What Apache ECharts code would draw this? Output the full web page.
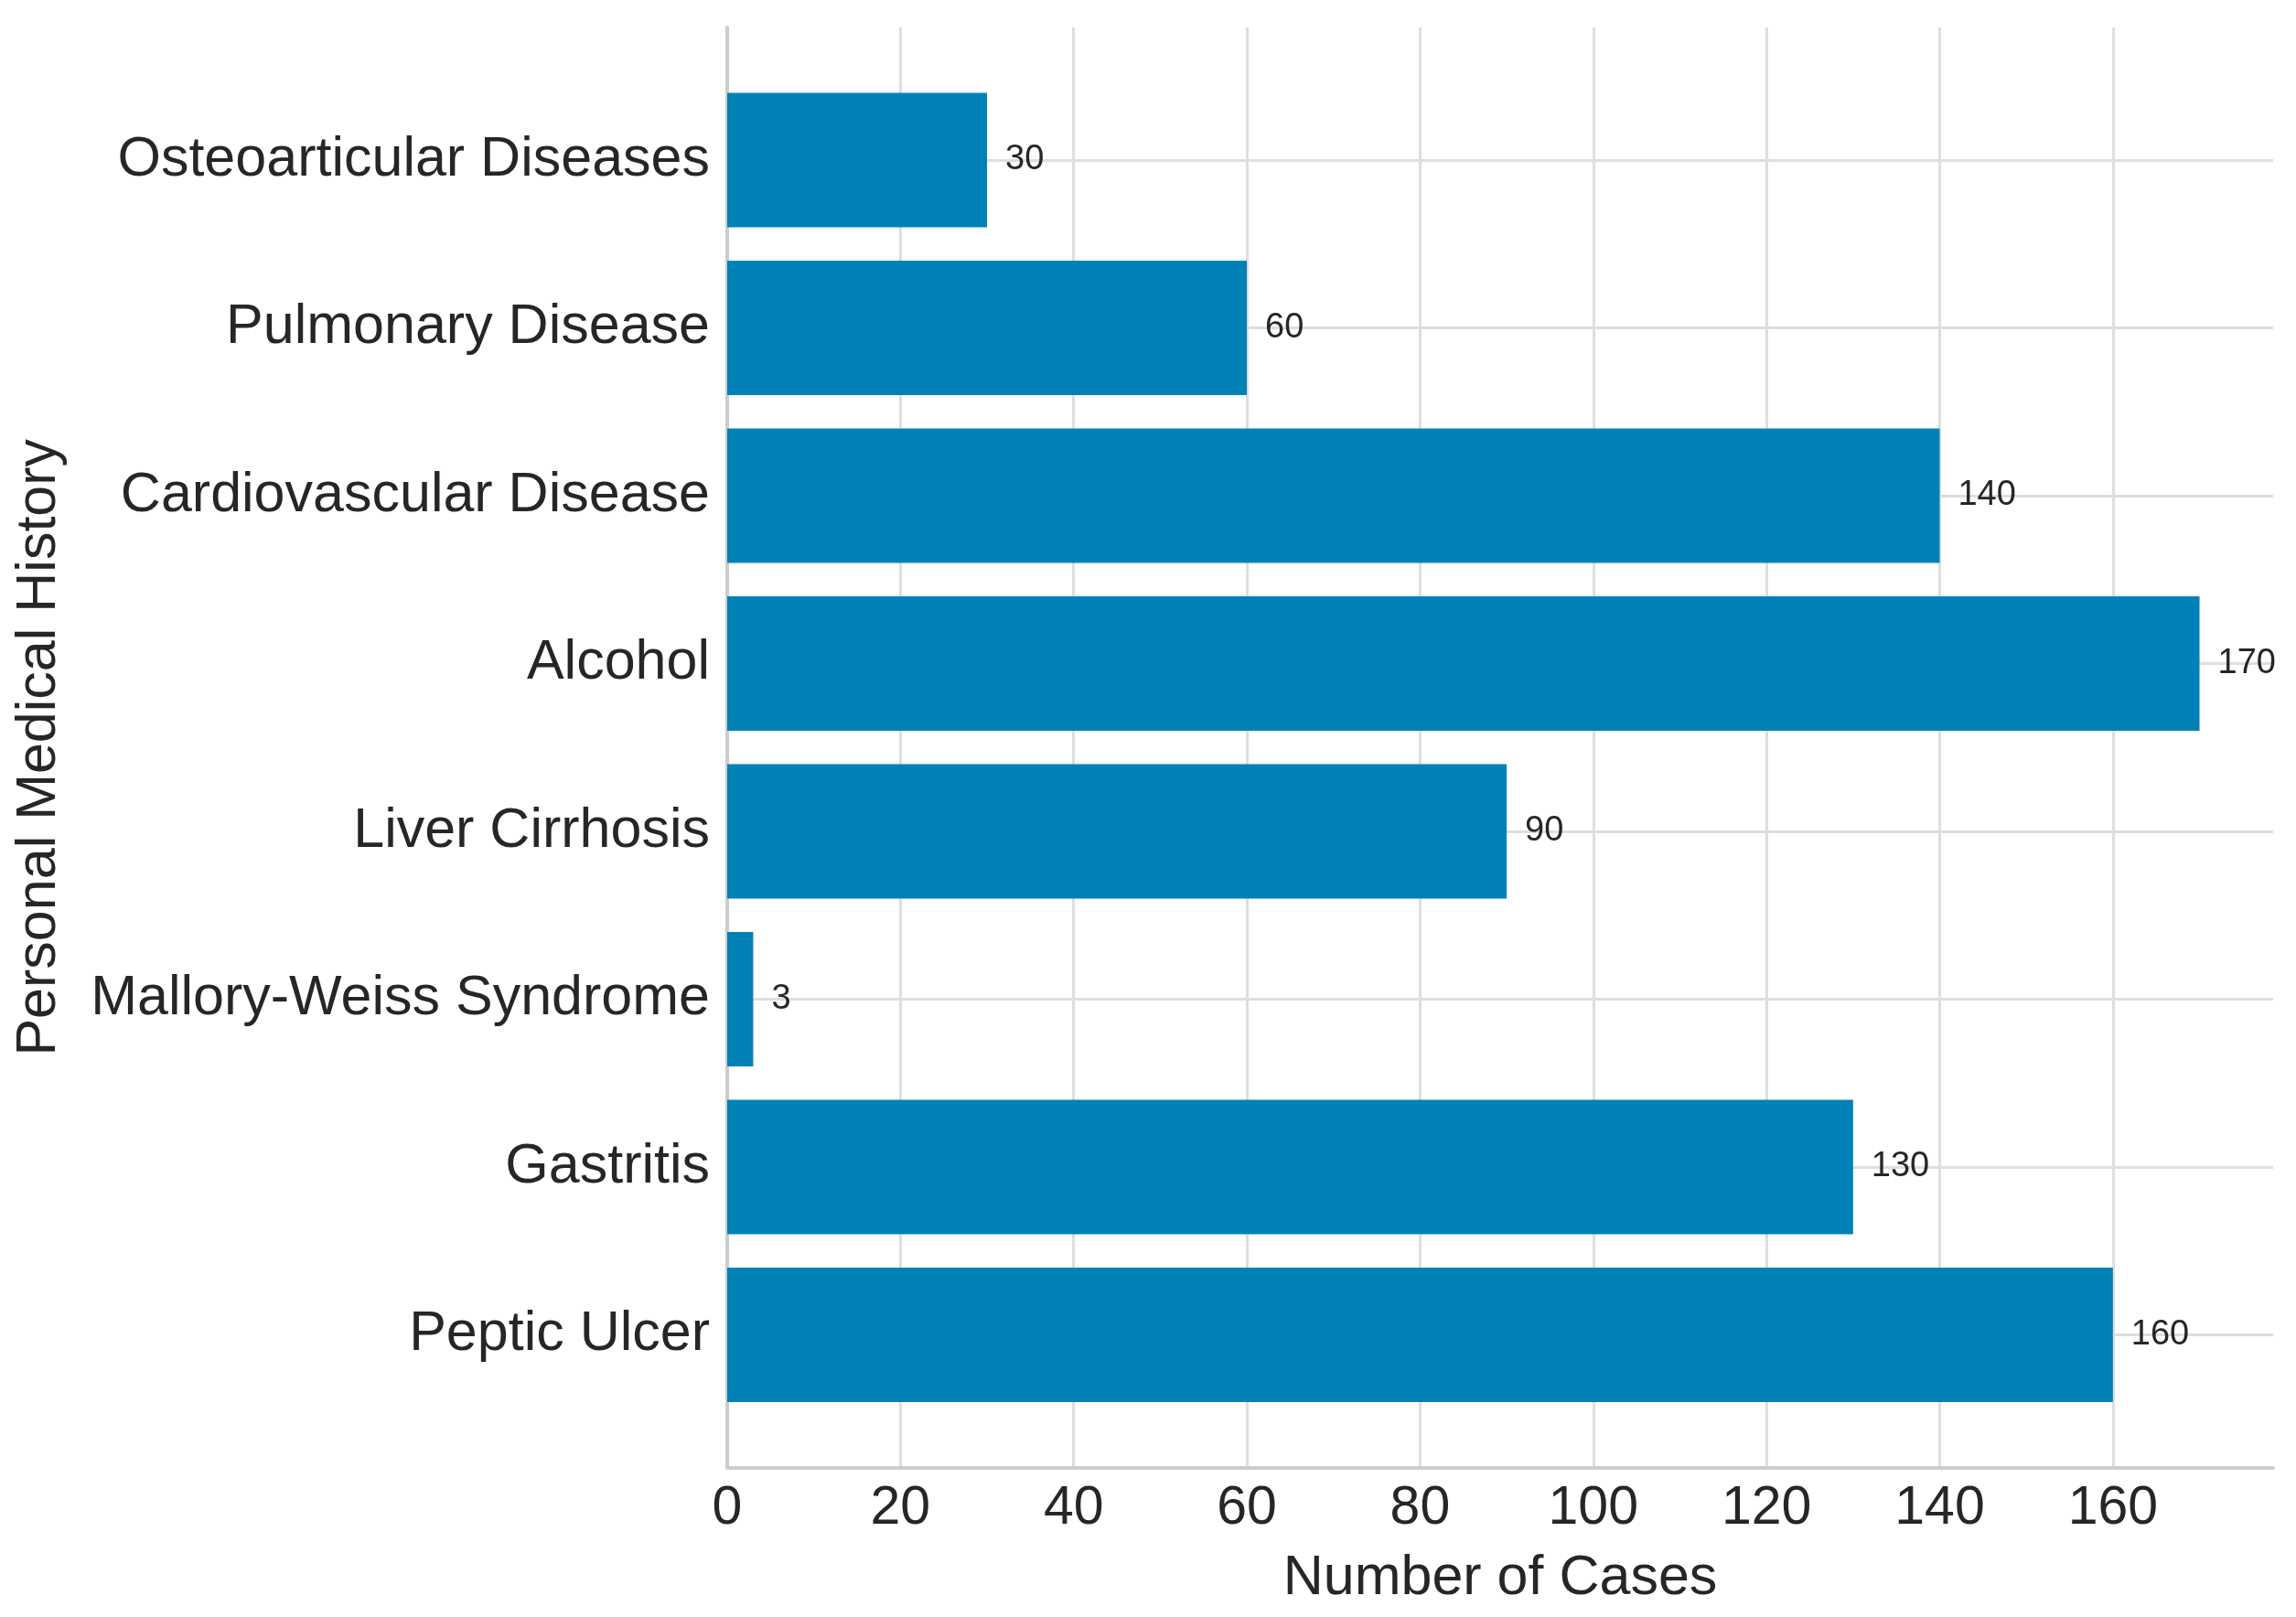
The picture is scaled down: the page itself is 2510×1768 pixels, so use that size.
<!DOCTYPE html>
<html>
<head>
<meta charset="utf-8">
<script src="https://cdn.jsdelivr.net/npm/echarts@6/dist/echarts.min.js"></script>
<style>
    html, body { margin: 0; padding: 0; background: #ffffff; }
    #main { width: 2510px; height: 1768px; }
</style>
</head>
<body>
<div id="main"></div>
<script>
// 数据: bottom to top, like the original barh
var categories = ['Peptic Ulcer', 'Gastritis', 'Mallory-Weiss Syndrome', 'Liver Cirrhosis',
    'Alcohol', 'Cardiovascular Disease', 'Pulmonary Disease', 'Osteoarticular Diseases']
var cases = [160, 130, 3, 90, 170, 140, 60, 30]
var xTicks = [0, 20, 40, 60, 80, 100, 120, 140, 160]

var font = 'Liberation Sans'
var textColor = '#262626'
var xMax = 178.5

var myChart = echarts.init(document.querySelector('#main'))

option = {
    backgroundColor: '#ffffff',
    textStyle: { fontFamily: font },
    grid: [
        // outer frame: spines + vertical grid
        { left: 795, right: 25, top: 30, bottom: 163.5 },
        // inner: category centres
        { left: 795, right: 25, top: 175, bottom: 308.5 }
    ],
    xAxis: [
        {
            gridIndex: 0,
            type: 'value',
            min: 0,
            max: xMax,
            interval: 20,
            name: 'Number of Cases',
            nameLocation: 'middle',
            nameGap: 91,
            nameTextStyle: { fontSize: 61, color: textColor, fontFamily: font },
            axisLine: { show: true, lineStyle: { color: '#cccccc', width: 4 } },
            axisTick: { show: false },
            axisLabel: {
                fontSize: 59,
                color: textColor,
                margin: 16,
                showMaxLabel: false,
                formatter: function(v) {
                    return xTicks.indexOf(v) >= 0 ? String(v) : ''
                }
            },
            splitLine: { show: true, showMaxLine: false, lineStyle: { color: '#dedede', width: 3 } }
        },
        {
            gridIndex: 1,
            type: 'value',
            min: 0,
            max: xMax,
            show: false
        }
    ],
    yAxis: [
        {
            gridIndex: 0,
            type: 'value',
            min: 0,
            max: 1,
            name: 'Personal Medical History',
            nameLocation: 'middle',
            nameGap: 721,
            nameTextStyle: { fontSize: 61, color: textColor, fontFamily: font },
            axisLine: { show: true, lineStyle: { color: '#cccccc', width: 4 } },
            axisTick: { show: false },
            axisLabel: { show: false },
            splitLine: { show: false }
        },
        {
            gridIndex: 1,
            type: 'category',
            data: categories,
            boundaryGap: false,
            axisLine: { show: false },
            axisTick: { show: false },
            axisLabel: { fontSize: 61, color: textColor, margin: 19, interval: 0, padding: [6, 0, 0, 0] },
            splitLine: { show: true, interval: 0, lineStyle: { color: '#dedede', width: 3 } }
        }
    ],
    series: [
        {
            type: 'bar',
            xAxisIndex: 0,
            yAxisIndex: 0,
            data: []
        },
        {
            name: 'Number of Cases',
            type: 'bar',
            xAxisIndex: 1,
            yAxisIndex: 1,
            data: cases,
            barWidth: '80%',
            clip: false,
            itemStyle: { color: '#0082b7' },
            label: {
                show: true,
                position: 'right',
                distance: 20,
                fontSize: 38,
                color: textColor,
                fontFamily: font
            }
        }
    ]
};

myChart.setOption(option);
</script>
</body>
</html>
